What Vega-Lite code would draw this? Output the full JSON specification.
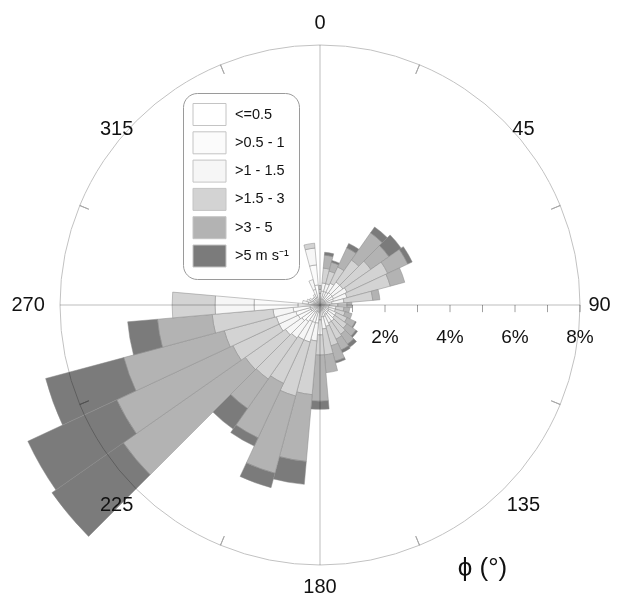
{
  "$schema": "https://vega.github.io/schema/vega-lite/v6.json",
  "width": 640,
  "height": 610,
  "autosize": {"type": "none"},
  "padding": 0,
  "background": "white",
  "config": {"view": {"stroke": null}, "font": "Liberation Sans"},
  "layer": [
    {
      "data": {"values": [
        {"dir":0,"lo":-5,"hi":5,"c1":0.18,"c2":0.18,"c3":0.12,"c4":0.12,"c5":0,"c6":0},
        {"dir":10,"lo":5,"hi":15,"c1":0.18,"c2":0.25,"c3":0.25,"c4":0.46,"c5":0.40,"c6":0.09},
        {"dir":20,"lo":15,"hi":25,"c1":0.18,"c2":0.25,"c3":0.25,"c4":0.40,"c5":0.28,"c6":0.06},
        {"dir":30,"lo":25,"hi":35,"c1":0.18,"c2":0.25,"c3":0.31,"c4":0.55,"c5":0.65,"c6":0.15},
        {"dir":40,"lo":35,"hi":45,"c1":0.18,"c2":0.28,"c3":0.40,"c4":0.83,"c5":1.02,"c6":0.22},
        {"dir":50,"lo":45,"hi":55,"c1":0.18,"c2":0.28,"c3":0.40,"c4":1.05,"c5":0.68,"c6":0.46},
        {"dir":60,"lo":55,"hi":65,"c1":0.18,"c2":0.28,"c3":0.46,"c4":1.38,"c5":0.68,"c6":0.15},
        {"dir":70,"lo":65,"hi":75,"c1":0.18,"c2":0.25,"c3":0.43,"c4":1.38,"c5":0.46,"c6":0},
        {"dir":80,"lo":75,"hi":85,"c1":0.15,"c2":0.22,"c3":0.37,"c4":0.89,"c5":0.22,"c6":0},
        {"dir":90,"lo":85,"hi":95,"c1":0.12,"c2":0.18,"c3":0.25,"c4":0.28,"c5":0.15,"c6":0},
        {"dir":100,"lo":95,"hi":105,"c1":0.12,"c2":0.15,"c3":0.22,"c4":0.25,"c5":0.18,"c6":0},
        {"dir":110,"lo":105,"hi":115,"c1":0.12,"c2":0.15,"c3":0.22,"c4":0.31,"c5":0.22,"c6":0},
        {"dir":120,"lo":115,"hi":125,"c1":0.12,"c2":0.18,"c3":0.25,"c4":0.37,"c5":0.28,"c6":0.03},
        {"dir":130,"lo":125,"hi":135,"c1":0.12,"c2":0.18,"c3":0.25,"c4":0.46,"c5":0.34,"c6":0.06},
        {"dir":140,"lo":135,"hi":145,"c1":0.15,"c2":0.18,"c3":0.28,"c4":0.49,"c5":0.37,"c6":0.12},
        {"dir":150,"lo":145,"hi":155,"c1":0.15,"c2":0.18,"c3":0.28,"c4":0.55,"c5":0.37,"c6":0.09},
        {"dir":160,"lo":155,"hi":165,"c1":0.15,"c2":0.22,"c3":0.31,"c4":0.62,"c5":0.49,"c6":0.06},
        {"dir":170,"lo":165,"hi":175,"c1":0.15,"c2":0.22,"c3":0.37,"c4":0.80,"c5":0.55,"c6":0},
        {"dir":180,"lo":175,"hi":185,"c1":0.18,"c2":0.28,"c3":0.46,"c4":0.62,"c5":1.42,"c6":0.25},
        {"dir":190,"lo":185,"hi":195,"c1":0.22,"c2":0.34,"c3":0.55,"c4":1.66,"c5":2.06,"c6":0.71},
        {"dir":200,"lo":195,"hi":205,"c1":0.22,"c2":0.34,"c3":0.62,"c4":1.72,"c5":2.46,"c6":0.46},
        {"dir":210,"lo":205,"hi":215,"c1":0.22,"c2":0.34,"c3":0.62,"c4":1.48,"c5":1.85,"c6":0.28},
        {"dir":220,"lo":215,"hi":225,"c1":0.25,"c2":0.37,"c3":0.62,"c4":1.54,"c5":1.11,"c6":0.77},
        {"dir":230,"lo":225,"hi":235,"c1":0.28,"c2":0.40,"c3":0.62,"c4":1.51,"c5":4.58,"c6":2.68},
        {"dir":240,"lo":235,"hi":245,"c1":0.31,"c2":0.43,"c3":0.65,"c4":1.57,"c5":3.94,"c6":3.02},
        {"dir":250,"lo":245,"hi":255,"c1":0.31,"c2":0.46,"c3":0.62,"c4":1.66,"c5":3.20,"c6":2.49},
        {"dir":260,"lo":255,"hi":265,"c1":0.31,"c2":0.52,"c3":0.62,"c4":1.88,"c5":1.69,"c6":0.92},
        {"dir":270,"lo":265,"hi":275,"c1":0.68,"c2":1.35,"c3":1.20,"c4":1.32,"c5":0,"c6":0},
        {"dir":280,"lo":275,"hi":285,"c1":0.18,"c2":0.18,"c3":0.18,"c4":0,"c5":0,"c6":0},
        {"dir":290,"lo":285,"hi":295,"c1":0.15,"c2":0.15,"c3":0.12,"c4":0,"c5":0,"c6":0},
        {"dir":300,"lo":295,"hi":305,"c1":0.12,"c2":0.12,"c3":0.12,"c4":0,"c5":0,"c6":0},
        {"dir":310,"lo":305,"hi":315,"c1":0.12,"c2":0.12,"c3":0.06,"c4":0,"c5":0,"c6":0},
        {"dir":320,"lo":315,"hi":325,"c1":0.12,"c2":0.12,"c3":0.06,"c4":0,"c5":0,"c6":0},
        {"dir":330,"lo":325,"hi":335,"c1":0.12,"c2":0.12,"c3":0.12,"c4":0,"c5":0,"c6":0},
        {"dir":340,"lo":335,"hi":345,"c1":0.25,"c2":0.25,"c3":0.31,"c4":0,"c5":0,"c6":0},
        {"dir":350,"lo":345,"hi":355,"c1":0.62,"c2":0.62,"c3":0.52,"c4":0.15,"c5":0,"c6":0}
      ]},
      "transform": [
        {"fold": ["c1","c2","c3","c4","c5","c6"], "as": ["cls","pct"]},
        {"stack": "pct", "groupby": ["dir"], "sort": [{"field": "cls", "order": "ascending"}], "as": ["r0","r1"]},
        {"filter": "datum.pct > 0"},
        {"lookup": "cls", "from": {"data": {"values": [
          {"cls":"c1","label":"<=0.5"},
          {"cls":"c2","label":">0.5 - 1"},
          {"cls":"c3","label":">1 - 1.5"},
          {"cls":"c4","label":">1.5 - 3"},
          {"cls":"c5","label":">3 - 5"},
          {"cls":"c6","label":">5 m s⁻¹"}
        ]}, "key": "cls", "fields": ["label"]}}
      ],
      "mark": {"type": "arc", "stroke": "#8a8a8a", "strokeWidth": 0.5},
      "encoding": {
        "theta": {"field": "lo", "type": "quantitative", "scale": {"type": "linear", "domain": [0,360], "range": [0,6.283185307179586]}},
        "theta2": {"field": "hi"},
        "radius": {"field": "r1", "type": "quantitative", "scale": {"type": "linear", "domain": [0,8], "range": [0,260], "zero": true}},
        "radius2": {"field": "r0"},
        "color": {
          "field": "label", "type": "nominal",
          "scale": {"domain": ["<=0.5", ">0.5 - 1", ">1 - 1.5", ">1.5 - 3", ">3 - 5", ">5 m s⁻¹"],
                    "range": ["#ffffff", "#fbfbfb", "#f6f6f6", "#d3d3d3", "#b3b3b3", "#7b7b7b"]},
          "legend": {
            "title": null, "orient": "none", "legendX": 183, "legendY": 93, "direction": "vertical",
            "padding": 10, "cornerRadius": 14, "strokeColor": "#9a9a9a", "fillColor": "#ffffff",
            "symbolType": "M-1.5,-1H1.5V1H-1.5Z", "symbolSize": 484, "symbolStrokeColor": "#c4c4c4",
            "symbolStrokeWidth": 1, "symbolOpacity": 1, "symbolOffset": 5, "rowPadding": 1.3,
            "labelFontSize": 14.5, "labelFont": "Liberation Sans", "labelColor": "#111111", "labelOffset": 14
          }
        }
      }
    },
    {
      "data": {"values": [{}]},
      "mark": {"type": "arc", "fill": "transparent", "stroke": "#c2c2c2", "strokeWidth": 1, "blend": "multiply"},
      "encoding": {
        "theta": {"datum": 0, "type": "quantitative", "scale": {"type": "linear", "domain": [0,360], "range": [0,6.283185307179586]}},
        "theta2": {"datum": 360},
        "radius": {"datum": 8, "type": "quantitative", "scale": {"type": "linear", "domain": [0,8], "range": [0,260], "zero": true}},
        "radius2": {"datum": 0}
      }
    },
    {
      "data": {"values": [{}]},
      "mark": {"type": "rule", "color": "#bdbdbd", "strokeWidth": 1, "blend": "multiply"},
      "encoding": {
        "x": {"datum": -8, "type": "quantitative", "scale": {"domain": [-9.846, 9.846], "nice": false, "zero": false}, "axis": null},
        "x2": {"datum": 8},
        "y": {"datum": 0, "type": "quantitative", "scale": {"domain": [-9.3846, 9.3846], "nice": false, "zero": false}, "axis": null}
      }
    },
    {
      "data": {"values": [{}]},
      "mark": {"type": "rule", "color": "#bdbdbd", "strokeWidth": 1, "blend": "multiply"},
      "encoding": {
        "x": {"datum": 0, "type": "quantitative", "axis": null},
        "y": {"datum": -8, "type": "quantitative", "axis": null},
        "y2": {"datum": 8}
      }
    },
    {
      "data": {"values": [{"v":1},{"v":2},{"v":3},{"v":4},{"v":5},{"v":6},{"v":7},{"v":8}]},
      "mark": {"type": "rule", "color": "#a0a0a0", "strokeWidth": 1, "blend": "multiply"},
      "encoding": {
        "x": {"field": "v", "type": "quantitative", "axis": null},
        "y": {"datum": 0, "type": "quantitative", "axis": null},
        "y2": {"datum": -0.22}
      }
    },
    {
      "data": {"values": [{"v":2,"lab":"2%"},{"v":4,"lab":"4%"},{"v":6,"lab":"6%"},{"v":8,"lab":"8%"}]},
      "mark": {"type": "text", "fontSize": 19, "font": "Liberation Sans", "color": "#111111", "align": "center", "baseline": "middle"},
      "encoding": {
        "x": {"field": "v", "type": "quantitative", "axis": null},
        "y": {"datum": -0.97, "type": "quantitative", "axis": null},
        "text": {"field": "lab"}
      }
    },
    {
      "data": {"values": [{"a":22.5},{"a":67.5},{"a":112.5},{"a":157.5},{"a":202.5},{"a":247.5},{"a":292.5},{"a":337.5}]},
      "mark": {"type": "arc", "fill": "transparent", "stroke": "#a8a8a8", "strokeWidth": 1, "blend": "multiply"},
      "encoding": {
        "theta": {"field": "a", "type": "quantitative", "scale": {"type": "linear", "domain": [0,360], "range": [0,6.283185307179586]}},
        "theta2": {"field": "a"},
        "radius": {"datum": 8, "type": "quantitative", "scale": {"type": "linear", "domain": [0,8], "range": [0,260], "zero": true}},
        "radius2": {"datum": 7.7}
      }
    },
    {
      "data": {"values": [{"ang":0,"lab":"0"},{"ang":180,"lab":"180"}]},
      "mark": {"type": "text", "fontSize": 20, "font": "Liberation Sans", "color": "#111111", "align": "center", "baseline": "middle"},
      "encoding": {
        "theta": {"field": "ang", "type": "quantitative", "scale": {"type": "linear", "domain": [0,360], "range": [0,6.283185307179586]}},
        "radius": {"datum": 8.68, "type": "quantitative", "scale": {"type": "linear", "domain": [0,8], "range": [0,260], "zero": true}},
        "text": {"field": "lab"}
      }
    },
    {
      "data": {"values": [{"ang":90,"lab":"90"}]},
      "mark": {"type": "text", "fontSize": 20, "font": "Liberation Sans", "color": "#111111", "align": "center", "baseline": "middle"},
      "encoding": {
        "theta": {"field": "ang", "type": "quantitative", "scale": {"type": "linear", "domain": [0,360], "range": [0,6.283185307179586]}},
        "radius": {"datum": 8.6, "type": "quantitative", "scale": {"type": "linear", "domain": [0,8], "range": [0,260], "zero": true}},
        "text": {"field": "lab"}
      }
    },
    {
      "data": {"values": [{"ang":270,"lab":"270"}]},
      "mark": {"type": "text", "fontSize": 20, "font": "Liberation Sans", "color": "#111111", "align": "center", "baseline": "middle"},
      "encoding": {
        "theta": {"field": "ang", "type": "quantitative", "scale": {"type": "linear", "domain": [0,360], "range": [0,6.283185307179586]}},
        "radius": {"datum": 8.98, "type": "quantitative", "scale": {"type": "linear", "domain": [0,8], "range": [0,260], "zero": true}},
        "text": {"field": "lab"}
      }
    },
    {
      "data": {"values": [{"ang":45,"lab":"45"},{"ang":315,"lab":"315"}]},
      "mark": {"type": "text", "fontSize": 20, "font": "Liberation Sans", "color": "#111111", "align": "center", "baseline": "middle", "dy": 27},
      "encoding": {
        "theta": {"field": "ang", "type": "quantitative", "scale": {"type": "linear", "domain": [0,360], "range": [0,6.283185307179586]}},
        "radius": {"datum": 8.85, "type": "quantitative", "scale": {"type": "linear", "domain": [0,8], "range": [0,260], "zero": true}},
        "text": {"field": "lab"}
      }
    },
    {
      "data": {"values": [{"ang":135,"lab":"135"},{"ang":225,"lab":"225"}]},
      "mark": {"type": "text", "fontSize": 20, "font": "Liberation Sans", "color": "#111111", "align": "center", "baseline": "middle", "dy": -3},
      "encoding": {
        "theta": {"field": "ang", "type": "quantitative", "scale": {"type": "linear", "domain": [0,360], "range": [0,6.283185307179586]}},
        "radius": {"datum": 8.85, "type": "quantitative", "scale": {"type": "linear", "domain": [0,8], "range": [0,260], "zero": true}},
        "text": {"field": "lab"}
      }
    },
    {
      "data": {"values": [{}]},
      "mark": {"type": "text", "text": "ϕ (°)", "fontSize": 26, "font": "Liberation Sans", "color": "#111111", "align": "center", "baseline": "middle"},
      "encoding": {
        "x": {"datum": 5.0, "type": "quantitative", "axis": null},
        "y": {"datum": -8.09, "type": "quantitative", "axis": null}
      }
    }
  ]
}
